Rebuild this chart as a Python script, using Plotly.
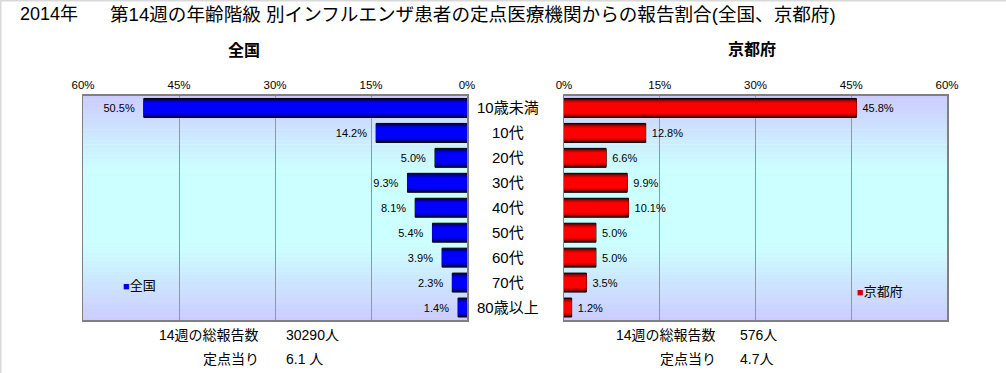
import plotly.graph_objects as go

# ---------------- data ----------------
categories = ["10歳未満", "10代", "20代", "30代", "40代", "50代", "60代", "70代", "80歳以上"]
zenkoku_pct = [50.5, 14.2, 5.0, 9.3, 8.1, 5.4, 3.9, 2.3, 1.4]
kyoto_pct = [45.8, 12.8, 6.6, 9.9, 10.1, 5.0, 5.0, 3.5, 1.2]
tick_vals = [0, 15, 30, 45, 60]
zenkoku_total = "30290人"
zenkoku_per = "6.1 人"
kyoto_total = "576人"
kyoto_per = "4.7人"

W, H = 1006, 373
FONT = "Liberation Sans, Noto Sans CJK JP, sans-serif"

def px(x):
    return x / W

def py(y):
    return 1 - y / H

fig = go.Figure()

blue_layers = [(0.76, "#000040"), (0.68, "#00008c"), (0.58, "#0000c8"), (0.44, "#0000ff")]
red_layers = [(0.76, "#400000"), (0.68, "#8c0000"), (0.58, "#d00000"), (0.44, "#ff0000")]

NB = "\u00a0"
for side, vals, layers, xa, ya, pad_l, pad_r in [
    ("全国", zenkoku_pct, blue_layers, "x", "y", NB * 2, ""),
    ("京都府", kyoto_pct, red_layers, "x2", "y2", "", NB),
]:
    for i, (wd, col) in enumerate(layers):
        if i == 0:
            kw = dict(
                text=[f"{pad_r}{v:.1f}%{pad_l}" for v in vals],
                textposition="outside",
                textfont=dict(size=11, color="black", family=FONT),
                constraintext="none",
                cliponaxis=False,
                marker=dict(color=col, line=dict(color="black", width=1)),
            )
        else:
            kw = dict(marker=dict(color=col, line=dict(width=0)))
        fig.add_trace(go.Bar(
            x=vals, y=categories, orientation="h", width=wd,
            xaxis=xa, yaxis=ya, showlegend=False, hoverinfo="skip", name=side, **kw))

# ---------------- layout ----------------
y_dom = [py(320), py(95.5)]
axis_common = dict(
    tickvals=tick_vals, ticktext=[f"{v}%" for v in tick_vals], side="top",
    showgrid=True, gridcolor="#8a98a8", gridwidth=1, zeroline=False,
    showline=True, linecolor="#808080", linewidth=1.5, mirror=True,
    ticks="", tickfont=dict(size=11.5, color="black", family=FONT), fixedrange=True,
    automargin=False,
)
yaxis_common = dict(domain=y_dom, autorange="reversed", showticklabels=False, showgrid=False,
                    showline=True, linecolor="#808080", linewidth=1.5, mirror=True, ticks="",
                    automargin=False, fixedrange=True)
fig.update_layout(
    template="none",
    width=W, height=H, autosize=False,
    margin=dict(l=0, r=0, t=0, b=0, pad=0, autoexpand=False),
    paper_bgcolor="white", plot_bgcolor="rgba(0,0,0,0)",
    barmode="overlay", showlegend=False,
    xaxis=dict(domain=[px(83), px(467)], range=[60, 0], anchor="y", **axis_common),
    xaxis2=dict(domain=[px(564), px(947)], range=[0, 60], anchor="y2", **axis_common),
    yaxis=dict(anchor="x", **yaxis_common),
    yaxis2=dict(anchor="x2", **yaxis_common),
    font=dict(family=FONT, color="black"),
)

# gradient background (lavender -> cyan -> lavender)
shapes = []
N = 60
lav = (204, 204, 255)
cya = (204, 255, 255)
for xr, yr in [("x domain", "y domain"), ("x2 domain", "y2 domain")]:
    for i in range(N):
        t = (i + 0.5) / N  # from top
        w = max(0.0, min(1.0, (0.5 - abs(t - 0.5)) / 0.33))
        c = tuple(round(lav[k] + (cya[k] - lav[k]) * w) for k in range(3))
        shapes.append(dict(type="rect", xref=xr, yref=yr, x0=0, x1=1,
                           y0=1 - (i + 1) / N - 0.002, y1=1 - i / N,
                           fillcolor=f"rgb{c}", line=dict(width=0), layer="below"))
# outer frame lines (top and left)
shapes.append(dict(type="line", xref="paper", yref="paper", x0=0, x1=1, y0=1, y1=1,
                   line=dict(color="#d9d9d9", width=3)))
shapes.append(dict(type="line", xref="paper", yref="paper", x0=0, x1=0, y0=0, y1=1,
                   line=dict(color="#d9d9d9", width=3)))
fig.update_layout(shapes=shapes)

ann = []
def text(x, y, s, size, anchor="left", bold=False, color="black"):
    ann.append(dict(xref="paper", yref="paper", x=px(x), y=py(y), text=(f"<b>{s}</b>" if bold else s),
                    showarrow=False, xanchor=anchor, yanchor="middle",
                    font=dict(size=size, color=color, family=FONT)))

text(18, 14, "2014年", 18)
text(108, 14, "第14週の年齢階級 別インフルエンザ患者の定点医療機関からの報告割合(全国、京都府)", 18.6)
text(244, 50, "全国", 16, "center", bold=True)
text(752, 50, "京都府", 16, "center", bold=True)

# category labels between the panels
for c in categories:
    ann.append(dict(xref="paper", yref="y", x=px(508), y=c, text=c, showarrow=False,
                    xanchor="center", yanchor="middle", font=dict(size=15, color="black", family=FONT)))

# legends
text(121, 285, "<span style='color:#0000e0;font-size:11px'>■</span>全国", 13)
text(855, 291, "<span style='color:#d00000;font-size:11px'>■</span>京都府", 13)

# bottom info
text(261, 335, "14週の総報告数", 14, "right")
text(284, 335, zenkoku_total, 14)
text(261, 359, "定点当り", 14, "right")
text(284, 359, zenkoku_per, 14)
text(718, 335, "14週の総報告数", 14, "right")
text(738, 335, kyoto_total, 14)
text(718, 359, "定点当り", 14, "right")
text(738, 359, kyoto_per, 14)

fig.update_layout(annotations=ann)
fig.write_html(
    "out.html",
    config={"displayModeBar": False, "staticPlot": True},
    post_script="document.body.style.margin='0';document.body.style.overflow='hidden';",
)
